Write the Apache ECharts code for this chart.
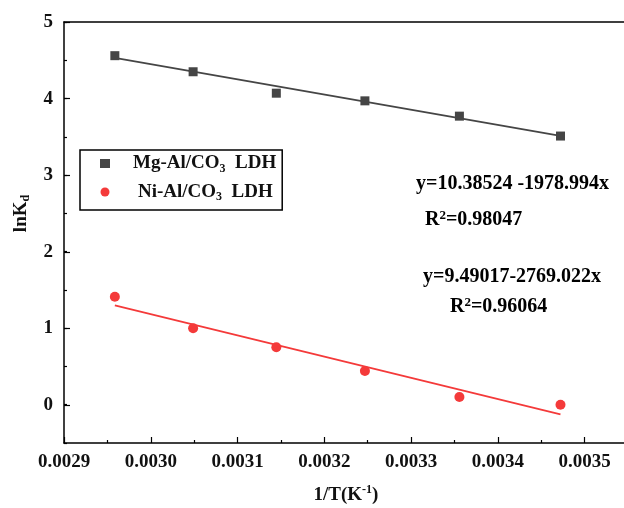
<!DOCTYPE html>
<html>
<head>
<meta charset="utf-8">
<script src="https://cdn.jsdelivr.net/npm/echarts@6/dist/echarts.min.js"></script>
<style>
html,body{margin:0;padding:0;background:#fff;}
#chart{width:624px;height:508px;}
</style>
</head>
<body>
<div id="chart"></div>
<script>
// 1/T values (K^-1)
var invT = [0.0029586, 0.0030488, 0.0031447, 0.0032468, 0.0033557, 0.0034722];
// lnKd values
var mgLnKd = [4.56, 4.35, 4.07, 3.97, 3.77, 3.51];
var niLnKd = [1.41, 1.00, 0.75, 0.44, 0.10, 0.00];
// linear fit coefficients [intercept, slope]
var mgFit = [10.38524, -1978.994];
var niFit = [9.49017, -2769.022];
var mgR2 = '0.98047';
var niR2 = '0.96064';
var seriesNames = ['Mg-Al/CO3 LDH', 'Ni-Al/CO3 LDH'];

var FONT = 'Liberation Serif';
var GRAY = '#454545';
var RED = '#f43a3a';
var TEXTRED = '#ff1a1a';
var XMIN = 0.0029, XMAX = 0.00355;

function pts(ys) { return invT.map(function (x, i) { return [x, ys[i]]; }); }
function fitLine(c) {
  var xs = [invT[0], invT[invT.length - 1]];
  return xs.map(function (x) { return [x, c[0] + c[1] * x]; });
}

var chart = echarts.init(document.getElementById('chart'), null, {renderer: 'canvas'});

function makeRich(size, col) {
  return {
    a: {fontFamily: FONT, fontWeight: 'bold', fontSize: size, lineHeight: 22, color: col},
    m: {fontFamily: FONT, fontWeight: 'bold', fontSize: size, lineHeight: 22, color: col, padding: [0, 0, 0, 18]},
    n: {fontFamily: FONT, fontWeight: 'bold', fontSize: size, lineHeight: 22, color: col, padding: [0, 0, 0, 23]},
    s: {fontFamily: FONT, fontWeight: 'bold', fontSize: Math.round(size * 0.63), lineHeight: 22, verticalAlign: 'bottom', padding: [8, 0, 0, 0], color: col},
    p: {fontFamily: FONT, fontWeight: 'bold', fontSize: Math.round(size * 0.63), lineHeight: 22, verticalAlign: 'top', padding: [0, 0, 8, 0], color: col}
  };
}
var richAxis = makeRich(19, '#111');
var richNote = makeRich(20, '#111');
var richNoteRed = makeRich(20, TEXTRED);

var option = {
  backgroundColor: '#fff',
  animation: false,
  grid: [
    {left: 64, top: 22, right: -4, bottom: 65, outerBoundsMode: 'none', containLabel: false},
    {left: 64, top: 22, right: -4, bottom: 103, outerBoundsMode: 'none', containLabel: false}
  ],
  legend: {
    left: 80, top: 150,
    orient: 'vertical',
    borderColor: '#000', borderWidth: 1.5, borderRadius: 0,
    padding: [4, 6, 7, 20],
    itemWidth: 10, itemHeight: 9, itemGap: 8,
    data: [
      {name: seriesNames[0], icon: 'rect'},
      {name: seriesNames[1], icon: 'circle'}
    ],
    formatter: function (n) {
      var parts = n.split('CO3');
      var lead = n === seriesNames[0] ? 'm' : 'n';
      return '{' + lead + '|' + parts[0] + 'CO}{s|3}{a|' + parts[1].replace(' ', '  ') + '}';
    },
    textStyle: {rich: richAxis}
  },
  xAxis: [
    {
      type: 'value', gridIndex: 0, min: XMIN, max: XMAX, interval: 0.0001,
      position: 'bottom',
      name: '{a|1/T(K}{p|-1}{a|)}',
      nameLocation: 'middle', nameGap: 41,
      nameTextStyle: {rich: richAxis},
      axisLine: {show: true, onZero: false, lineStyle: {color: '#000', width: 1.5}},
      axisTick: {show: true, inside: true, length: 6, lineStyle: {color: '#000', width: 1.2}},
      minorTick: {show: true, splitNumber: 2, length: 3, lineStyle: {color: '#000', width: 1.2}},
      axisLabel: {
        margin: 10, fontFamily: FONT, fontWeight: 'bold', fontSize: 19, color: '#111',
        showMaxLabel: false,
        formatter: function (v) { return v.toFixed(4); }
      },
      splitLine: {show: false}
    },
    {
      type: 'value', gridIndex: 0, min: XMIN, max: XMAX, position: 'top',
      axisLine: {show: true, onZero: false, lineStyle: {color: '#000', width: 1.5}},
      axisTick: {show: false}, axisLabel: {show: false}, splitLine: {show: false}
    },
    {
      type: 'value', gridIndex: 1, min: XMIN, max: XMAX, show: false
    }
  ],
  yAxis: [
    {
      type: 'value', gridIndex: 0, min: -0.5, max: 5, interval: 0.5,
      axisLine: {show: true, onZero: false, lineStyle: {color: '#000', width: 1.5}},
      axisTick: {show: true, inside: true, length: 3, lineStyle: {color: '#000', width: 1.2}},
      axisLabel: {show: false},
      splitLine: {show: false}
    },
    {
      type: 'value', gridIndex: 1, min: 0, max: 5, interval: 1,
      name: '{a|lnK}{s|d}',
      nameLocation: 'middle', nameGap: 32, nameRotate: 90,
      nameTextStyle: {rich: richAxis},
      axisLine: {show: false},
      axisTick: {show: true, inside: true, length: 6, lineStyle: {color: '#000', width: 1.2}},
      axisLabel: {margin: 11, fontFamily: FONT, fontWeight: 'bold', fontSize: 19, color: '#111'},
      splitLine: {show: false}
    }
  ],
  series: [
    {
      name: seriesNames[0], type: 'scatter', xAxisIndex: 0, yAxisIndex: 0,
      symbol: 'rect', symbolSize: 9, data: pts(mgLnKd),
      itemStyle: {color: GRAY, opacity: 1}, z: 5
    },
    {
      name: seriesNames[1], type: 'scatter', xAxisIndex: 0, yAxisIndex: 0,
      symbol: 'circle', symbolSize: 10, data: pts(niLnKd),
      itemStyle: {color: RED, opacity: 1}, z: 5
    },
    {
      name: 'mgFit', type: 'line', xAxisIndex: 0, yAxisIndex: 0,
      data: fitLine(mgFit), showSymbol: false, symbol: 'none',
      lineStyle: {color: GRAY, width: 1.8}, z: 3
    },
    {
      name: 'niFit', type: 'line', xAxisIndex: 0, yAxisIndex: 0,
      data: fitLine(niFit), showSymbol: false, symbol: 'none',
      lineStyle: {color: RED, width: 1.8}, z: 3
    }
  ],
  graphic: [
    {
      type: 'text', left: 416, top: 174,
      style: {text: '{a|y=' + mgFit[0] + ' ' + mgFit[1] + 'x}', rich: richNote}
    },
    {
      type: 'text', left: 425, top: 209,
      style: {text: '{a|R}{p|2}{a|=' + mgR2 + '}', rich: richNote}
    },
    {
      type: 'text', left: 423, top: 267,
      style: {text: '{a|y=' + niFit[0] + niFit[1] + 'x}', rich: richNoteRed}
    },
    {
      type: 'text', left: 450, top: 296,
      style: {text: '{a|R}{p|2}{a|=' + niR2 + '}', rich: richNoteRed}
    }
  ]
};
chart.setOption(option);
</script>
</body>
</html>
